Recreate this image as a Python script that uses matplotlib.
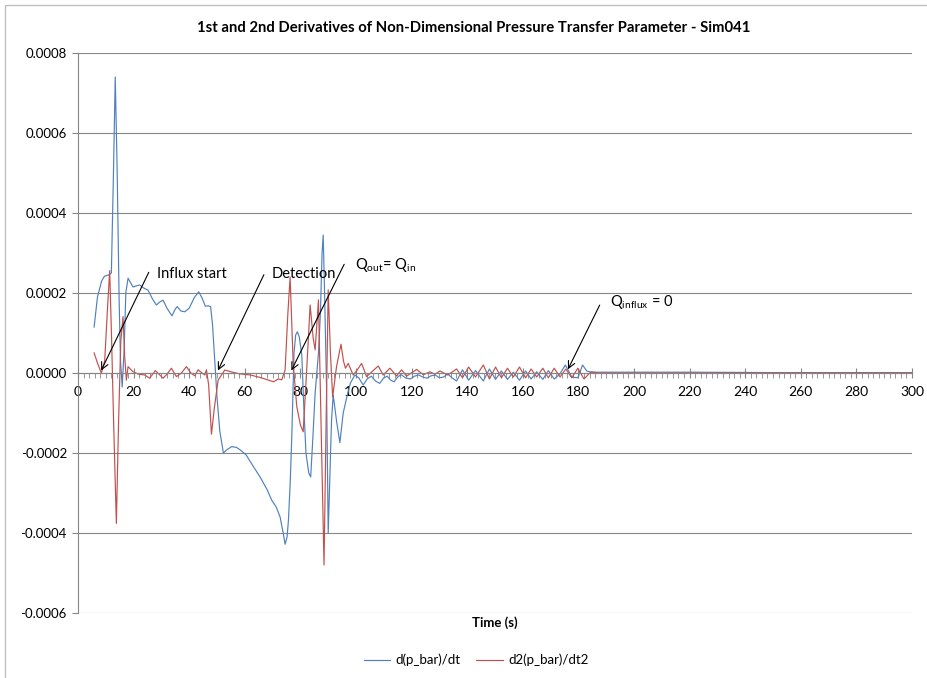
import numpy as np
import matplotlib
matplotlib.use("Agg")
import matplotlib.pyplot as plt
from matplotlib.patches import Rectangle
from matplotlib.ticker import MultipleLocator, FormatStrFormatter

plt.rcParams['font.family'] = ['Lato', 'DejaVu Sans']
plt.rcParams['mathtext.fontset'] = 'custom'
plt.rcParams['mathtext.rm'] = 'Lato'
plt.rcParams['axes.unicode_minus'] = False

# time (s) and values (x1e-4)
t_d1 = [5.8, 7.0, 8.5, 9.5, 11.0, 12.0, 12.7, 13.4, 14.1, 14.8, 15.3, 15.9, 16.6, 17.2,
        18.0, 19.0, 19.8, 21.0, 22.2, 23.5, 25.2, 26.8, 28.2, 29.5, 30.6, 32.0, 33.8,
        35.0, 35.7, 37.0, 38.4, 40.0, 41.8, 43.4, 44.6, 45.8, 46.8, 47.7, 48.4, 49.2,
        50.0, 51.0, 52.3, 53.5, 55.3, 57.0, 58.3, 60.5, 63.1, 65.5, 67.9, 69.7, 71.3,
        72.7, 73.8, 74.5, 75.2, 75.7, 76.3, 76.9, 77.7, 78.3, 78.9, 79.6, 80.5, 81.2,
        82.0, 83.0, 83.7, 84.5, 85.3, 86.5, 87.2, 87.8, 88.2, 88.7, 89.4, 90.0, 90.6,
        91.2, 91.8, 93.0, 94.2, 95.4, 96.7, 98.0, 99.6, 101.0, 102.6, 104.0, 105.5,
        107.0, 108.5, 110.0, 111.2, 112.5, 113.7, 115.0, 116.2, 117.8, 119.5, 121.0,
        122.5, 124.0, 125.5, 127.0, 128.5, 130.0, 131.5, 133.0, 134.5, 136.2, 138.3,
        140.5, 143.0, 145.8, 148.0, 150.2, 152.3, 154.5, 156.6, 158.8, 161.0, 163.0,
        165.0, 167.2, 169.2, 171.3, 173.4, 175.3, 177.6, 179.8, 181.5, 183.0, 184.5,
        186.0, 190, 200, 220, 250, 280, 300]
d1 = [1.15, 1.9, 2.3, 2.42, 2.45, 2.5, 4.8, 7.4, 5.0, 1.8, 0.3, -0.35, 0.6, 2.0,
      2.37, 2.25, 2.15, 2.18, 2.2, 2.13, 2.07, 1.85, 1.7, 1.78, 1.82, 1.62, 1.43,
      1.6, 1.66, 1.55, 1.53, 1.62, 1.88, 2.03, 1.88, 1.67, 1.68, 1.66, 1.2, 0.3,
      -0.6, -1.45, -2.0, -1.92, -1.84, -1.86, -1.92, -2.05, -2.34, -2.6, -2.9, -3.18, -3.35,
      -3.6, -4.0, -4.28, -4.1, -3.68, -2.8, -1.6, 0.5, 0.95, 1.03, 0.9, 0.45, -0.8,
      -2.0, -2.5, -2.6, -1.6, -0.5, 0.5, 1.5, 3.0, 3.45, 2.0, -0.34, -4.0, -2.6,
      -1.18, -0.55, -1.2, -1.74, -1.0, -0.6, -0.25, -0.05, -0.12, -0.3, -0.15, -0.08,
      -0.2, -0.26, -0.12, -0.08, -0.18, -0.22, -0.1, -0.04, -0.12, -0.15, -0.08,
      -0.05, -0.1, -0.13, -0.07, -0.05, -0.12, -0.1, -0.02, -0.12, -0.2, 0.08,
      -0.18, 0.06, -0.2, 0.1, -0.16, 0.05, -0.16, 0.02, -0.18, 0.05, -0.15,
      0.03, -0.16, 0.06, -0.15, -0.02, 0.2, -0.1, -0.12, 0.2, 0.05, 0.02,
      0.02, 0.02, 0.02, 0.02, 0.01, 0.01, 0.01]

t_d2 = [5.8, 7.0, 8.4, 9.6, 10.6, 11.4, 12.1, 12.8, 13.8, 14.6, 15.4, 16.2, 16.8, 17.4,
        18.0, 19.8, 21.8, 24.0, 25.8, 27.8, 29.0, 30.6, 32.0, 33.6, 35.4, 37.2, 39.0,
        40.6, 42.0, 43.2, 44.6, 45.6, 46.2, 47.0, 48.0, 49.0, 50.4, 52.8, 55.0, 58.0,
        62.0, 66.0, 70.3, 72.0, 73.3, 74.5, 75.5, 76.3, 77.4, 78.7, 80.0, 81.0, 82.2,
        83.5, 84.6, 85.3, 86.5, 87.4, 88.5, 89.3, 90.0, 90.8, 91.6, 93.0, 94.6, 95.5,
        96.2, 97.2, 99.0, 100.5, 102.0, 103.8, 106.0, 108.0, 109.8, 112.2, 114.6, 116.4,
        118.2, 121.8, 124.2, 126.6, 128.4, 130.2, 133.0, 136.2, 138.3, 140.5, 143.0,
        145.8, 148.0, 150.2, 152.3, 154.5, 156.6, 158.8, 161.0, 163.0, 165.0, 167.2,
        169.2, 171.3, 173.4, 175.5, 177.6, 179.8, 182.0, 184.5, 187.0, 200, 250, 300]
d2 = [0.5, 0.25, 0.0, 0.3, 1.6, 2.56, 0.8, -1.2, -3.76, -1.2, 0.8, 1.41, 0.4, -0.18,
      0.16, 0.03, -0.03, -0.05, -0.13, 0.06, -0.02, -0.13, -0.03, 0.12, -0.09, 0.0, 0.16,
      0.0, -0.07, 0.08, 0.0, -0.05, 0.08, -0.3, -1.53, -0.9, -0.18, 0.075, 0.03, -0.02,
      -0.05, -0.12, -0.22, -0.15, -0.17, 0.075, 1.5, 2.4, 0.24, -0.84, -1.3, -1.47, 0.0,
      1.7, 0.87, 0.58, 1.83, -1.17, -4.8, -1.0, 2.08, 0.5, -0.6, 0.16, 0.72, 0.3,
      0.12, 0.24, -0.05, 0.08, 0.24, -0.09, 0.05, 0.175, -0.05, 0.12, -0.075, 0.08,
      -0.08, 0.09, -0.045, 0.03, -0.03, 0.05, -0.05, 0.1, -0.12, 0.15, -0.1,
      0.2, -0.15, 0.15, -0.12, 0.12, -0.1, 0.15, -0.12, 0.1, -0.1, 0.12,
      -0.12, 0.12, -0.1, 0.1, -0.12, 0.12, -0.15, 0.03, 0.0, 0.0, 0.0, 0.0]

scale = 1e-4
blue = '#4F81BD'
red = '#C0504D'
grey = '#868686'

fig = plt.figure(figsize=(9.28, 6.78), dpi=100)
fig.patches.append(Rectangle((5 / 928, -0.1), 1.2, 1.1 - 5 / 678,
                             transform=fig.transFigure, fill=False,
                             edgecolor='#BFBFBF', lw=1.0))
ax = fig.add_axes([78 / 928, 65 / 678, 834 / 928, 560 / 678])

ax.plot(t_d1, np.array(d1) * scale, color=blue, lw=0.85, label='d(p_bar)/dt')
ax.plot(t_d2, np.array(d2) * scale, color=red, lw=0.85, label='d2(p_bar)/dt2')

ax.set_xlim(0, 300)
ax.set_ylim(-0.0006, 0.0008)
ax.yaxis.set_major_locator(MultipleLocator(0.0002))
ax.yaxis.set_major_formatter(FormatStrFormatter('%.4f'))
ax.xaxis.set_major_locator(MultipleLocator(20))
ax.xaxis.set_minor_locator(MultipleLocator(2))
ax.grid(axis='y', color=grey, lw=0.8)
ax.set_axisbelow(True)

for s in ['top', 'right']:
    ax.spines[s].set_visible(False)
ax.spines['bottom'].set_position(('data', 0))
ax.spines['bottom'].set_color(grey)
ax.spines['left'].set_color(grey)
ax.tick_params(axis='x', which='major', direction='inout', length=7, color=grey,
               labelsize=10, pad=6)
ax.tick_params(axis='x', which='minor', direction='out', length=3.5, color=grey)
ax.tick_params(axis='y', which='major', direction='out', length=4, color=grey,
               labelsize=9.5, pad=4)

# annotations
ann = dict(arrowstyle='->,head_length=0.5,head_width=0.25', color='black', lw=0.8)
ax.annotate('', xy=(7.9, 0), xytext=(25.9, 0.000258), arrowprops=ann)
ax.text(28.4, 0.000248, 'Influx start', fontsize=10.5, va='center')
ax.annotate('', xy=(49.9, 0), xytext=(67.3, 0.000252), arrowprops=ann)
ax.text(69.6, 0.000248, 'Detection', fontsize=10.5, va='center')
ax.annotate('', xy=(76.3, 0), xytext=(96.2, 0.000278), arrowprops=ann)
ax.text(99.5, 0.000270, r'Q$_{\mathrm{out}}$= Q$_{\mathrm{in}}$', fontsize=10.5, va='center')
ax.annotate('', xy=(175.8, 0.000003), xytext=(188.1, 0.000176), arrowprops=ann)
ax.text(191.5, 0.000178, r'Q$_{\mathrm{influx}}$ = 0', fontsize=10.5, va='center')

fig.text(474 / 928, 1 - 28 / 678,
         '1st and 2nd Derivatives of Non-Dimensional Pressure Transfer Parameter - Sim041',
         ha='center', va='center', fontsize=10.7, fontweight='bold')
fig.text(495 / 928, 1 - 623 / 678, 'Time (s)', ha='center', va='center',
         fontsize=9.5, fontweight='bold')
fig.legend(loc='center', bbox_to_anchor=(476 / 928, 1 - 660 / 678), ncol=2,
           frameon=False, fontsize=9.5, handlelength=2.0, handletextpad=0.4,
           columnspacing=1.2)

fig.savefig('out.png', dpi=100)
